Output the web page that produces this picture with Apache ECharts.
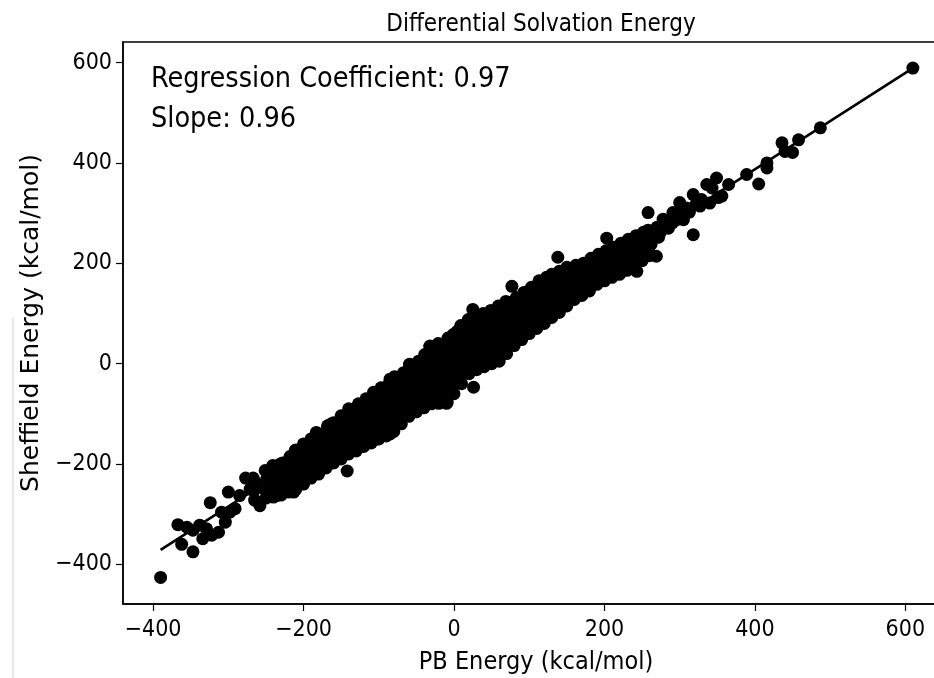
<!DOCTYPE html>
<html>
<head>
<meta charset="utf-8">
<script src="https://cdn.jsdelivr.net/npm/echarts@6/dist/echarts.min.js"></script>
<style>
  html, body { margin: 0; padding: 0; background: #fff; overflow: hidden; }
  /* plot frame runs past the right edge of the window, as in the source image */
  #main { width: 950px; height: 678px; }
</style>
</head>
<body>
<div id="main"></div>
<script>
// axis ranges (kcal/mol)
var xRange = [-440, 658];
var yRange = [-479, 641];

// sparse points, lower-left tail
var lowTail = [
  [-390,-426],[-347,-375],[-362,-360],[-367,-321],[-355,-326],[-338,-322],[-347,-332],[-334,-349],
  [-329,-329],[-324,-277],[-322,-342],[-313,-336],[-309,-296],[-304,-316],[-298,-296],[-291,-289],
  [-300,-256],[-285,-263],[-277,-228],[-271,-250],[-258,-283],[-249,-230],[-241,-203],[-236,-263],
  [-231,-200],[-222,-196],[-213,-256],[-211,-173],[-183,-137],[-163,-120],
  [-265,-272],[-266,-254],[-264,-237],[-267,-228]
];

// dense band, read column by column
var bandPoints = [
  [-250,-268],[-252,-250],[-248,-231],[-251,-213],
  [-240,-266],[-242,-248],[-239,-230],[-241,-214],[-238,-205],
  [-230,-262],[-232,-244],[-229,-227],[-231,-210],[-228,-198],
  [-220,-256],[-221,-238],[-219,-220],[-222,-202],[-218,-185],
  [-210,-250],[-212,-232],[-209,-214],[-211,-196],[-208,-180],[-210,-172],
  [-200,-240],[-201,-222],[-199,-204],[-202,-186],[-198,-170],[-200,-160],
  [-190,-228],[-192,-210],[-189,-192],[-191,-175],[-188,-160],[-190,-150],
  [-180,-220],[-181,-202],[-179,-185],[-182,-168],[-178,-152],[-180,-140],
  [-170,-208],[-172,-190],[-169,-173],[-171,-156],[-168,-140],[-168,-126],
  [-160,-198],[-161,-181],[-159,-164],[-162,-147],[-158,-131],[-160,-118],
  [-150,-190],[-152,-173],[-149,-156],[-151,-139],[-148,-121],[-150,-104],
  [-140,-180],[-141,-163],[-139,-146],[-142,-128],[-138,-110],[-140,-90],
  [-130,-174],[-131,-157],[-129,-140],[-132,-122],[-128,-104],[-130,-88],[-127,-80],
  [-120,-165],[-122,-148],[-119,-131],[-121,-114],[-118,-97],[-120,-80],[-117,-70],
  [-110,-158],[-111,-141],[-109,-124],[-112,-107],[-108,-90],[-110,-73],[-107,-57],
  [-100,-150],[-102,-133],[-99,-116],[-101,-99],[-98,-82],[-100,-65],[-97,-48],
  [-90,-144],[-91,-127],[-89,-110],[-92,-93],[-88,-76],[-90,-59],[-87,-42],[-85,-31],
  [-80,-135],[-81,-118],[-79,-101],[-82,-84],[-78,-67],[-80,-50],[-77,-34],[-79,-26],
  [-70,-120],[-72,-103],[-69,-86],[-71,-69],[-68,-52],[-70,-35],[-67,-18],
  [-60,-105],[-61,-88],[-59,-71],[-62,-54],[-58,-38],[-60,-22],[-59,-3],
  [-50,-96],[-51,-79],[-49,-62],[-52,-45],[-48,-28],[-50,-11],[-47,5],
  [-40,-88],[-42,-71],[-39,-54],[-41,-37],[-38,-20],[-40,-3],[-37,14],[-39,18],
  [-30,-80],[-31,-63],[-29,-46],[-32,-29],[-28,-12],[-30,5],[-27,22],[-32,33],
  [-20,-79],[-21,-62],[-19,-45],[-22,-28],[-18,-11],[-20,6],[-17,23],[-21,40],
  [-10,-79],[-12,-62],[-9,-45],[-11,-28],[-8,-11],[-10,6],[-7,23],[-11,40],[-8,51],
  [0,-60],[-1,-43],[1,-26],[-2,-9],[2,8],[0,25],[3,42],[-1,58],[4,64],
  [10,-40],[9,-23],[11,-6],[8,11],[12,28],[10,45],[13,62],[9,76],
  [20,-20],[19,-3],[21,14],[18,31],[22,48],[20,65],[23,82],[19,88],
  [30,-12],[29,5],[31,22],[28,39],[32,56],[30,73],[33,90],[29,94],
  [40,-6],[39,11],[41,28],[38,45],[42,62],[40,79],[43,96],[39,100],
  [50,0],[49,17],[51,34],[48,51],[52,68],[50,85],[53,102],[49,106],
  [60,5],[59,22],[61,39],[58,56],[62,73],[60,90],[63,107],[59,115],
  [70,20],[69,37],[71,54],[68,71],[72,88],[70,105],[73,122],[69,124],
  [80,36],[79,53],[81,70],[78,87],[82,104],[80,121],[83,132],
  [90,48],[89,65],[91,82],[88,99],[92,116],[90,133],[93,142],
  [100,60],[99,77],[101,94],[98,111],[102,128],[100,145],[103,152],
  [110,70],[109,87],[111,104],[108,121],[112,138],[110,155],[113,165],
  [120,80],[119,97],[121,114],[118,131],[122,148],[120,165],[123,172],
  [130,92],[129,109],[131,126],[128,143],[132,160],[130,178],
  [140,102],[139,119],[141,136],[138,153],[142,170],[140,184],
  [150,115],[149,132],[151,149],[148,166],[152,183],[150,192],
  [160,128],[159,145],[161,162],[158,179],[162,196],
  [170,136],[169,153],[171,170],[168,187],[172,200],
  [180,145],[179,162],[181,179],[178,196],[182,210],
  [190,158],[189,175],[191,192],[188,208],[192,218],
  [200,165],[199,182],[201,199],[198,214],[202,225],
  [210,172],[209,189],[211,206],[208,222],[212,232],
  [220,178],[219,195],[221,212],[218,228],[222,240],
  [230,186],[229,203],[231,220],[228,236],[232,248],
  [240,192],[239,209],[241,226],[238,242],[242,255],
  [250,205],[249,222],[251,239],[248,255],[252,262],
  [260,215],[259,232],[261,249],[258,266]
];

// stray dots sticking out of the band
var bandOutliers = [
  [25,108],[77,154],[138,212],[203,250],[-32,35],[-59,-1],[-168,-124],
  [-9,-77],[26,-47],[-102,-150],[-85,-140],[-142,-214],[243,184],[269,214]
];

// sparse points, upper-right tail
var highTail = [
  [258,301],[261,247],[262,238],[272,252],[274,261],[285,270],[283,277],[270,272],[278,288],
  [290,280],[296,287],[291,301],[298,297],[305,287],[300,321],[309,310],[313,302],[322,318],
  [318,257],[318,337],[327,314],[329,327],[336,357],[340,320],[343,350],[349,370],[351,331],
  [356,334],[365,357],[389,377],[405,358],[416,400],[416,390],[436,440],[440,423],[450,421],
  [458,446],[487,470],[610,589]
];

// fitted line end points
var fitX = [-390, 610];
var fitY = [-371, 589];

var allPoints = lowTail.concat(bandPoints, bandOutliers, highTail);
var fitLine = fitX.map(function(x, i){ return [x, fitY[i]]; });

var condensed = "'DejaVu Sans Condensed', 'Liberation Sans Narrow', 'DejaVu Sans', sans-serif";
var minusFmt = function(v){ return v < 0 ? '\u2212' + Math.abs(v) : String(v); };

var chart = echarts.init(document.getElementById('main'));
var option = {
  animation: false,
  backgroundColor: '#fff',
  title: [{
    text: 'Differential Solvation Energy',
    left: 536,
    top: 8,
    textAlign: 'center',
    textStyle: { fontFamily: condensed, fontSize: 24, fontWeight: 'normal', color: '#000' }
  }, {
    text: 'Regression Coefficient: 0.97\nSlope: 0.96',
    left: 146,
    top: 55,
    textStyle: { fontFamily: condensed, fontSize: 28.5, fontWeight: 'normal', color: '#000', lineHeight: 40 }
  }],
  grid: {
    left: 123, top: 42, right: 1, bottom: 74,
    outerBoundsMode: 'none',
    containLabel: false,
    show: true, borderColor: '#000', borderWidth: 1.5, backgroundColor: '#fff'
  },
  xAxis: {
    type: 'value',
    min: xRange[0], max: xRange[1],
    minInterval: 200, maxInterval: 200,
    name: 'PB Energy (kcal/mol)',
    nameLocation: 'middle',
    nameGap: 46,
    nameTextStyle: { fontFamily: condensed, fontSize: 25, color: '#000' },
    axisLine: { show: true, onZero: false, lineStyle: { color: '#000', width: 1.5 } },
    axisTick: { show: true, inside: false, length: 7, lineStyle: { color: '#000', width: 1.2 } },
    axisLabel: { formatter: minusFmt, showMinLabel: false, showMaxLabel: false, margin: 15,
      fontFamily: condensed, fontSize: 23, color: '#000' },
    splitLine: { show: false }
  },
  yAxis: {
    type: 'value',
    min: yRange[0], max: yRange[1],
    minInterval: 200, maxInterval: 200,
    name: 'Sheffield Energy (kcal/mol)',
    nameLocation: 'middle',
    nameGap: 78,
    nameRotate: 90,
    nameTextStyle: { fontFamily: "'DejaVu Sans', sans-serif", fontSize: 25, color: '#000' },
    axisLine: { show: true, onZero: false, lineStyle: { color: '#000', width: 1.5 } },
    axisTick: { show: true, inside: false, length: 7, lineStyle: { color: '#000', width: 1.2 } },
    axisLabel: { formatter: minusFmt, showMinLabel: false, showMaxLabel: false, margin: 11,
      fontFamily: condensed, fontSize: 23, color: '#000' },
    splitLine: { show: false }
  },
  graphic: [{
    type: 'line',
    shape: { x1: 13, y1: 318, x2: 13, y2: 678 },
    style: { stroke: '#d0d0d0', lineWidth: 1 }
  }],
  series: [{
    type: 'scatter',
    data: allPoints,
    symbolSize: 13,
    itemStyle: { color: '#000', opacity: 1 },
    z: 2
  }, {
    type: 'line',
    data: fitLine,
    symbol: 'none',
    lineStyle: { color: '#000', width: 2.6 },
    z: 3
  }]
};
chart.setOption(option);
</script>
</body>
</html>
